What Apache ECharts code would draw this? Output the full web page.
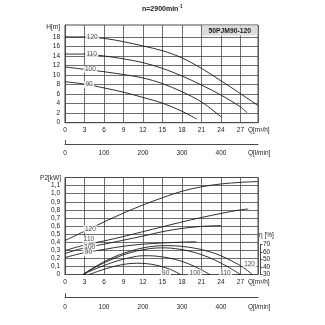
<!DOCTYPE html>
<html><head><meta charset="utf-8">
<script src="https://cdn.jsdelivr.net/npm/echarts@6/dist/echarts.min.js"></script>
<style>html,body{margin:0;padding:0;background:#fff}#c{width:325px;height:325px}</style>
</head><body><div id="c"></div>
<script>
// ---------- data ----------
const speedNames = ['120', '110', '100', '90'];
const qTicks = [0, 3, 6, 9, 12, 15, 18, 21, 24, 27];
const lminTicks = [0, 100, 200, 300, 400];
const hTicks = [0, 2, 4, 6, 8, 10, 12, 14, 16, 18];
const effTicks = [30, 40, 50, 60, 70];

// H [m] vs Q [m3/h]
const head120 = [[0,18.0],[3,18.0],[6,17.7],[9,17.0],[12,16.1],[15,15.1],[18,13.6],[21,11.4],[24,8.8],[27,6.1],[29.7,3.6]];
const head110 = [[0,14.4],[3,14.4],[6,14.0],[9,13.4],[12,12.6],[15,11.4],[18,9.8],[21,7.9],[24,5.8],[27,3.3],[28,2.1]];
const head100 = [[0,11.7],[3,11.2],[6,10.7],[9,10.1],[12,9.4],[15,8.2],[18,6.5],[21,4.35],[24,1.25]];
const head90  = [[0,8.6],[3,8.1],[6,7.3],[9,6.4],[12,5.3],[15,4.1],[18,2.4],[20.3,0.75]];

// P2 [kW] vs Q
const pow120 = [[0,0.42],[3,0.535],[6,0.65],[9,0.76],[12,0.86],[15,0.95],[18,1.03],[21,1.085],[24,1.12],[27,1.14],[29.7,1.15]];
const pow110 = [[0,0.295],[3,0.365],[6,0.415],[9,0.47],[12,0.53],[15,0.59],[18,0.65],[21,0.705],[24,0.755],[27,0.80],[28.2,0.81]];
const pow100 = [[0,0.26],[3,0.33],[6,0.375],[9,0.425],[12,0.475],[15,0.53],[18,0.57],[21,0.595],[24,0.605]];
const pow90  = [[0,0.21],[3,0.27],[6,0.31],[9,0.35],[12,0.375],[15,0.39],[18,0.40],[20.2,0.405]];

// efficiency [%] vs Q
const eff120 = [[2.8,30],[4,37],[6,47],[8,55],[10,61],[12,65.5],[14,68],[16,68.5],[18,67.5],[20,65],[22,61],[24,55],[26,46.5],[27.5,39],[28.8,30]];
const eff110 = [[2.8,30],[4,36.5],[6,45.5],[8,53],[10,59],[12,63],[14,65.3],[15.5,65.5],[17,64.5],[19,61.5],[21,56.5],[23,49.5],[25,40.5],[27,30]];
const eff100 = [[2.8,30],[4,35],[6,42],[8,48],[10,52.5],[12,55],[13,55],[14.5,54],[16,52],[18,47.5],[20,40.5],[22.3,30]];
const eff90  = [[3.7,30],[5,34],[7,39.5],[9,43.5],[11,45],[12.5,44.5],[14,42.5],[16,37.5],[17.8,30]];

// curve label anchors (data coordinates)
const headLabelAt = [[4.2,18.0],[4.1,14.35],[3.9,11.2],[3.7,8.0]];
const powLabelAt  = [[3.9,0.565],[3.7,0.435],[3.8,0.34],[3.6,0.27]];
const effLabelAt  = [[28.4,44],[24.7,32],[20.0,32],[15.5,31.5]];

const Q_MAX = 29.7;
const LMIN_MAX = Q_MAX * 1000 / 60;

// ---------- chart ----------
const FONT = 'Liberation Sans';
const ink = '#1a1a1a';
const gridCol = '#4a4a4a';
const chart = echarts.init(document.getElementById('c'), null, {renderer: 'canvas'});

function curve(data, xi, yi) {
  return {type: 'line', xAxisIndex: xi, yAxisIndex: yi, data: data, smooth: 0.35,
    symbol: 'none', silent: true, lineStyle: {color: ink, width: 0.9}, z: 3};
}
function labels(anchors, xi, yi) {
  return {type: 'scatter', xAxisIndex: xi, yAxisIndex: yi, symbolSize: 0, silent: true, z: 6,
    data: anchors.map((a, i) => ({value: a, label: {formatter: speedNames[i]}})),
    label: {show: true, position: 'inside', color: ink, fontSize: 6.5, fontFamily: FONT,
      backgroundColor: '#fff', padding: [0, 1.5]}};
}
const baseLabel = {color: ink, fontSize: 6.5, fontFamily: FONT};

function qAxis(grid) {
  return {gridIndex: grid, type: 'value', min: 0, max: Q_MAX, interval: 3,
    axisLine: {show: true, lineStyle: {color: gridCol, width: 1}}, axisTick: {show: false},
    axisLabel: Object.assign({margin: 4, customValues: qTicks}, baseLabel),
    splitLine: {show: true, lineStyle: {color: gridCol, width: 0.8}},
    name: 'Q[m³/h]', nameLocation: 'end', nameGap: -10,
    nameTextStyle: Object.assign({align: 'left', verticalAlign: 'top', padding: [4, 0, 0, 0]}, baseLabel)};
}
function lminAxis(grid, off) {
  return {gridIndex: grid, type: 'value', position: 'bottom', offset: off, min: 0, max: LMIN_MAX, interval: 100,
    axisLine: {show: true, lineStyle: {color: gridCol, width: 1}},
    axisTick: {show: true, inside: true, length: 4, customValues: [0], lineStyle: {color: gridCol}},
    axisLabel: Object.assign({margin: 6, customValues: lminTicks}, baseLabel),
    splitLine: {show: false},
    name: 'Q[l/min]', nameLocation: 'end', nameGap: -10,
    nameTextStyle: Object.assign({align: 'left', verticalAlign: 'top', padding: [6, 0, 0, 0]}, baseLabel)};
}

const option = {
  animation: false,
  backgroundColor: '#fff',
  title: {text: '{a|n=2900min}{s|-1}', left: 142, top: 4, padding: 0,
    textStyle: {rich: {a: {fontSize: 7, fontWeight: 'bold', fontFamily: FONT, color: ink},
                       s: {fontSize: 4.5, fontWeight: 'bold', fontFamily: FONT, color: ink, padding: [0, 0, 5, 0]}}}},
  grid: [
    {left: 65, right: 67, top: 25, bottom: 202.3, show: true, borderColor: gridCol, borderWidth: 1},
    {left: 65, right: 67, top: 177.5, bottom: 50.5, show: true, borderColor: gridCol, borderWidth: 1},
    {left: 260, width: 1, top: 244.5, bottom: 50.5, show: false}
  ],
  xAxis: [
    qAxis(0),
    lminAxis(0, 21.3),
    qAxis(1),
    lminAxis(1, 22.8),
    {gridIndex: 2, type: 'value', show: false, min: 0, max: 1}
  ],
  yAxis: [
    {gridIndex: 0, type: 'value', min: 0, max: 20.5, interval: 2,
      axisLine: {show: true, lineStyle: {color: gridCol}}, axisTick: {show: false, customValues: hTicks},
      axisLabel: Object.assign({margin: 5, customValues: hTicks}, baseLabel),
      splitLine: {show: true, lineStyle: {color: gridCol, width: 0.8}},
      name: 'H[m]', nameLocation: 'end', nameGap: -2.5,
      nameTextStyle: Object.assign({align: 'right', verticalAlign: 'middle', padding: [0, 5, 0, 0]}, baseLabel)},
    {gridIndex: 1, type: 'value', min: 0, max: 1.2, interval: 0.1,
      axisLine: {show: true, lineStyle: {color: gridCol}}, axisTick: {show: false},
      axisLabel: Object.assign({margin: 5, showMaxLabel: false,
        formatter: v => (v > 1.15 ? '' : (v === 0 ? '0' : v.toFixed(1).replace('.', ',')))}, baseLabel),
      splitLine: {show: true, lineStyle: {color: gridCol, width: 0.8}},
      name: 'P2[kW]', nameLocation: 'end', nameGap: -1,
      nameTextStyle: Object.assign({align: 'right', verticalAlign: 'middle', padding: [0, 4, 0, 0]}, baseLabel)},
    {gridIndex: 1, type: 'value', min: 30, max: 30 + 97 / 0.75, show: false, splitLine: {show: false}},
    {gridIndex: 2, type: 'value', position: 'right', min: 30, max: 70, interval: 10,
      axisLine: {show: true, lineStyle: {color: gridCol}},
      axisTick: {show: true, length: 2.5, lineStyle: {color: gridCol}},
      axisLabel: Object.assign({margin: 2, customValues: effTicks}, baseLabel),
      splitLine: {show: false},
      name: 'η [%]', nameLocation: 'end', nameGap: 9,
      nameTextStyle: Object.assign({align: 'left', verticalAlign: 'middle', padding: [0, 0, 0, -1]}, baseLabel)}
  ],
  graphic: [
    {type: 'rect', z: 100, shape: {x: 202, y: 25.5, width: 55.5, height: 10}, style: {fill: '#dcdcdc'}},
    {type: 'text', z: 101, x: 229.8, y: 30.8, style: {text: '50PJM90-120', fill: ink, font: 'bold 6.8px ' + FONT,
      align: 'center', verticalAlign: 'middle'}}
  ],
  series: [
    curve(head120, 0, 0), curve(head110, 0, 0), curve(head100, 0, 0), curve(head90, 0, 0),
    labels(headLabelAt, 0, 0),
    curve(pow120, 2, 1), curve(pow110, 2, 1), curve(pow100, 2, 1), curve(pow90, 2, 1),
    labels(powLabelAt, 2, 1),
    curve(eff120, 2, 2), curve(eff110, 2, 2), curve(eff100, 2, 2), curve(eff90, 2, 2),
    labels(effLabelAt, 2, 2)
  ]
};
chart.setOption(option);
</script></body></html>
